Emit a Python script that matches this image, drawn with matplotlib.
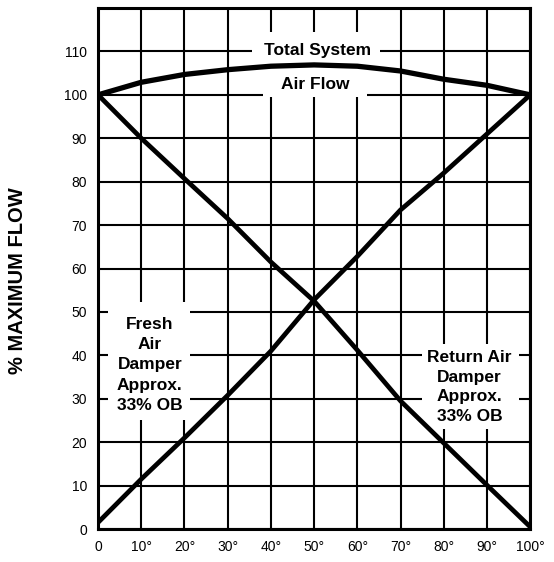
import matplotlib
matplotlib.use('Agg')
import matplotlib.pyplot as plt
from matplotlib.patches import Rectangle

# damper position (degrees) vs % of maximum flow
position = [0, 10, 20, 30, 40, 50, 60, 70, 80, 90, 100]
total_flow = [100, 102.9, 104.7, 105.8, 106.6, 106.9, 106.6, 105.5, 103.6, 102.2, 100]
fresh_air = [1.5, 11.5, 21, 30.8, 41, 52.8, 62.8, 73.5, 82, 91, 100]
return_air = [100, 90, 80.7, 71.5, 61.5, 52.5, 41.2, 29.5, 19.8, 10.1, 0.5]

x_ticks = [0, 10, 20, 30, 40, 50, 60, 70, 80, 90, 100]
x_labels = ['0', '10°', '20°', '30°', '40°', '50°', '60°', '70°', '80°', '90°', '100°']
y_ticks = [0, 10, 20, 30, 40, 50, 60, 70, 80, 90, 100, 110]

plt.rcParams['font.family'] = ['Liberation Sans', 'DejaVu Sans']

fig = plt.figure(figsize=(5.54, 5.62), dpi=100)
ax = fig.add_axes([0.177, 0.0587, 0.78, 0.927])
fig.patch.set_facecolor('white')

ax.set_xlim(0, 100)
ax.set_ylim(0, 120)
ax.set_xticks(x_ticks)
ax.set_xticklabels(x_labels)
ax.set_yticks(y_ticks + [120])
ax.set_yticklabels([str(v) for v in y_ticks] + [''])
ax.tick_params(length=0, labelsize=10, pad=8)
ax.set_axisbelow(True)
ax.grid(True, color='black', lw=1.5)
for s in ax.spines.values():
    s.set_linewidth(2.2)
    s.set_zorder(5)

# white patches behind the labels hide the grid
boxes = [(35.6, 106, 29.7, 8.5), (38.2, 99.6, 24.1, 6.4),
         (2.3, 25, 19, 27.2), (75, 23, 22.5, 19.5)]
for bx, by, bw, bh in boxes:
    ax.add_patch(Rectangle((bx, by), bw, bh, facecolor='white', edgecolor='none', zorder=2))

ax.plot(position, total_flow, color='black', lw=3.8, zorder=3, solid_capstyle='round')
ax.plot(position, fresh_air, color='black', lw=3.4, zorder=3, solid_capstyle='round')
ax.plot(position, return_air, color='black', lw=3.4, zorder=3, solid_capstyle='round')

tkw = dict(fontsize=12.5, fontweight='bold', ha='center', va='center', zorder=4)
ax.text(50.7, 110.2, 'Total System', **tkw)
ax.text(50.2, 102.5, 'Air Flow', **tkw)
ax.text(12, 37.8, 'Fresh\nAir\nDamper\nApprox.\n33% OB', linespacing=1.45, **tkw)
ax.text(86, 32.7, 'Return Air\nDamper\nApprox.\n33% OB', linespacing=1.4, **tkw)

fig.text(0.031, 0.5, '% MAXIMUM FLOW', rotation=90, fontsize=14.5, fontweight='bold',
         ha='center', va='center')

fig.savefig('out.png', dpi=100)
